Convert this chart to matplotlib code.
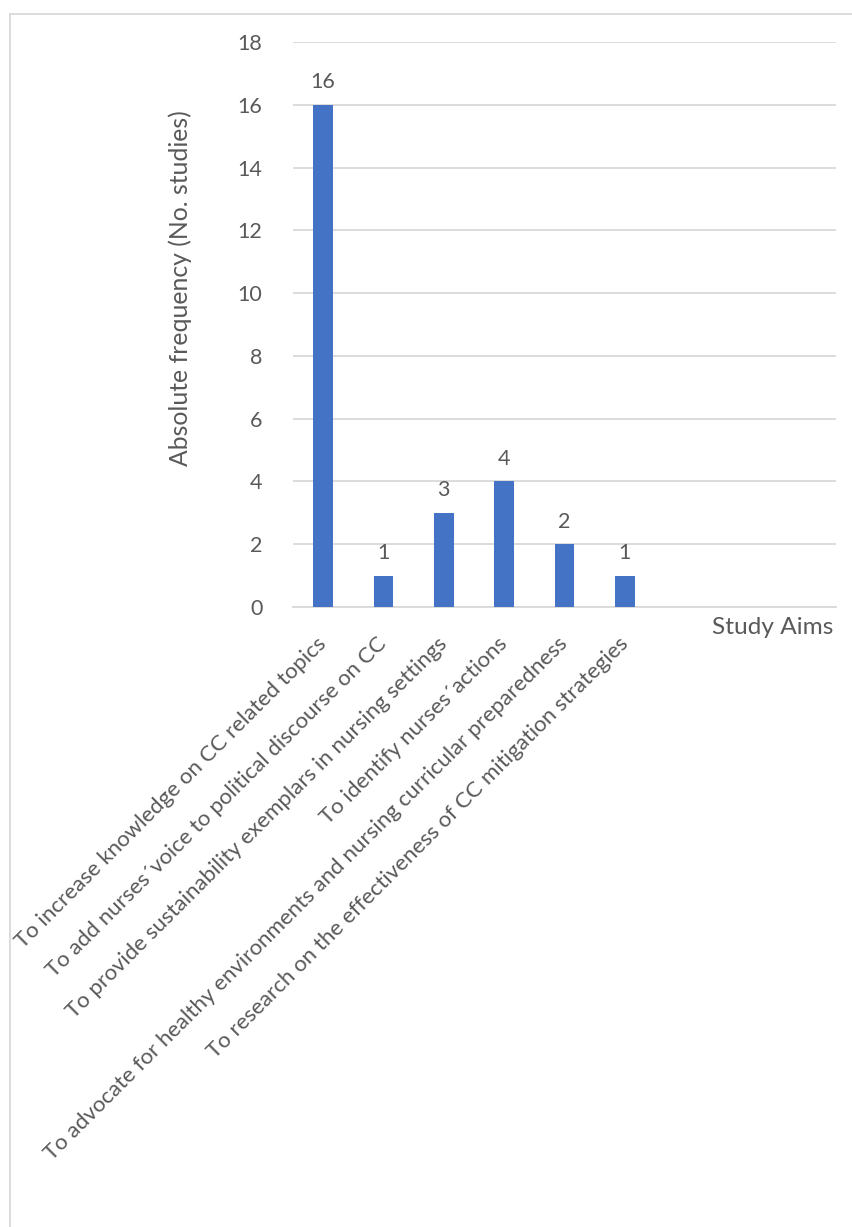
import matplotlib.pyplot as plt
from matplotlib.lines import Line2D

# Data
aims = [
    "To increase knowledge on CC related topics",
    "To add nurses´voice to political discourse on CC",
    "To provide sustainability exemplars in nursing settings",
    "To identify nurses´actions",
    "To advocate for healthy environments and nursing curricular preparedness",
    "To research on the effectiveness of CC mitigation strategies",
    "", "", "",
]
counts = [16, 1, 3, 4, 2, 1]
yticks = [0, 2, 4, 6, 8, 10, 12, 14, 16, 18]

plt.rcParams['font.family'] = ['Lato', 'DejaVu Sans']
textCol = '#595959'
gridCol = '#D9D9D9'
barCol = '#4472C4'

fig = plt.figure(figsize=(8.52, 12.27), dpi=100)
ax = fig.add_axes([293/852, 1-607/1227, 543/852, 565/1227])

xs = list(range(len(counts)))
bars = ax.bar(xs, counts, width=0.33, color=barCol, zorder=3)
for x, v in zip(xs, counts):
    ax.annotate(str(v), (x, v), xytext=(0, 9), textcoords='offset points',
                ha='center', va='bottom', fontsize=15.5, color=textCol)

ax.set_xlim(-0.5, len(aims)-0.5)
ax.set_ylim(0, 18)
ax.set_yticks(yticks)
ax.set_xticks(range(len(aims)))
ax.set_xticklabels(aims, rotation=45, ha='right', va='center',
                   rotation_mode='anchor', fontsize=16, color=textCol)
ax.tick_params(axis='x', length=0, pad=24)
ax.tick_params(axis='y', length=0, pad=22, labelsize=15.5, labelcolor=textCol)
ax.grid(axis='y', color=gridCol, linewidth=1.3, zorder=0)
for s in ['top', 'right', 'left']:
    ax.spines[s].set_visible(False)
ax.spines['bottom'].set_color(gridCol)
ax.spines['bottom'].set_linewidth(1.3)

fig.text(180/852, 1-288/1227, 'Absolute frequency (No. studies)', rotation=90,
         ha='center', va='center', fontsize=17.8, color=textCol)
fig.text(833/852, 1-628/1227, 'Study Aims', ha='right', va='center',
         fontsize=17.6, color=textCol)

# chart border (top and left only visible)
fig.add_artist(Line2D([10/852, 1], [1-14/1227, 1-14/1227], color=gridCol, lw=1.3,
                      transform=fig.transFigure))
fig.add_artist(Line2D([10/852, 10/852], [0, 1-14/1227], color=gridCol, lw=1.3,
                      transform=fig.transFigure))

fig.savefig('out.png', dpi=100)
